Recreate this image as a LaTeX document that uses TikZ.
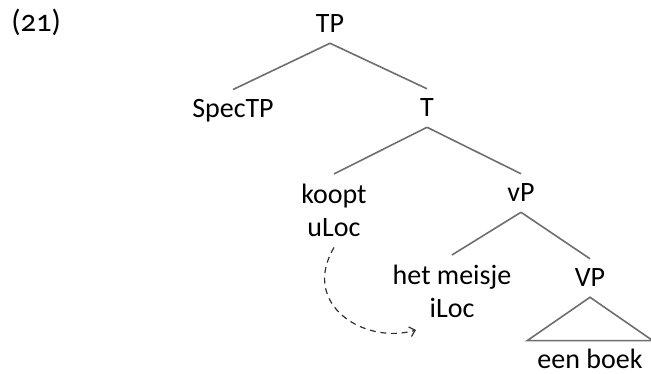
\documentclass[tikz,border=0pt]{standalone}
\usepackage{fontspec}
\setmainfont{Carlito}[Numbers=OldStyle]
\usepackage{tikz}
\usetikzlibrary{arrows.meta}
\definecolor{branchgray}{RGB}{110,110,110}
\definecolor{movegray}{RGB}{50,50,50}
\tikzstyle{label} = [inner xsep=2pt, inner ysep=7.5pt, text centered, font=\fontsize{21}{25}\selectfont]
\tikzstyle{branch} = [line width=1.2pt, draw=branchgray]
\tikzstyle{move} = [line width=0.9pt, draw=movegray, dash pattern=on 4.5pt off 3.5pt, ->, >={Straight Barb[length=4pt,width=7.5pt]}]

\begin{document}
\begin{tikzpicture}[x=0.75pt, y=-0.75pt]
    \useasboundingbox (0,0) rectangle (651,374);

    %Example Number
    \node (num) [label, anchor=base west, inner xsep=0pt, font=\fontsize{23}{25}\selectfont] at (11,32) {(21)};

    %Main Nodes
    \node (TP) [label, anchor=base] at (330,33) {TP};
    \node (SpecTP) [label, anchor=base] at (233,118) {SpecTP};
    \node (T) [label, anchor=base] at (427,117) {T};
    \node (koopt) [label, anchor=base, align=center] at (334,237) {koopt\\uLoc};
    \node (vP) [label, anchor=base] at (521,202) {vP};
    \node (meisje) [label, anchor=base, align=center] at (452,318) {het meisje\\iLoc};
    \node (VP) [label, anchor=base] at (590,287) {VP};
    \node (boek) [label, anchor=base, inner xsep=7.5pt, inner ysep=6.5pt] at (590,369) {een boek};

    %Branches
    \draw [branch] (TP.south) -- (SpecTP.north);
    \draw [branch] (TP.south) -- (T.north);
    \draw [branch] (T.south) -- (koopt.north);
    \draw [branch] (T.south) -- (vP.north);
    \draw [branch] (vP.south) -- (meisje.north);
    \draw [branch] (vP.south) -- (VP.north);
    \draw [branch] (VP.south) -- (boek.north west) -- (boek.north east) -- cycle;

    %Movement
    \coordinate (target) at (416,330);
    \draw [move] (koopt.south) .. controls (300,305) and (365,345) .. (target);

\end{tikzpicture}
\end{document}
